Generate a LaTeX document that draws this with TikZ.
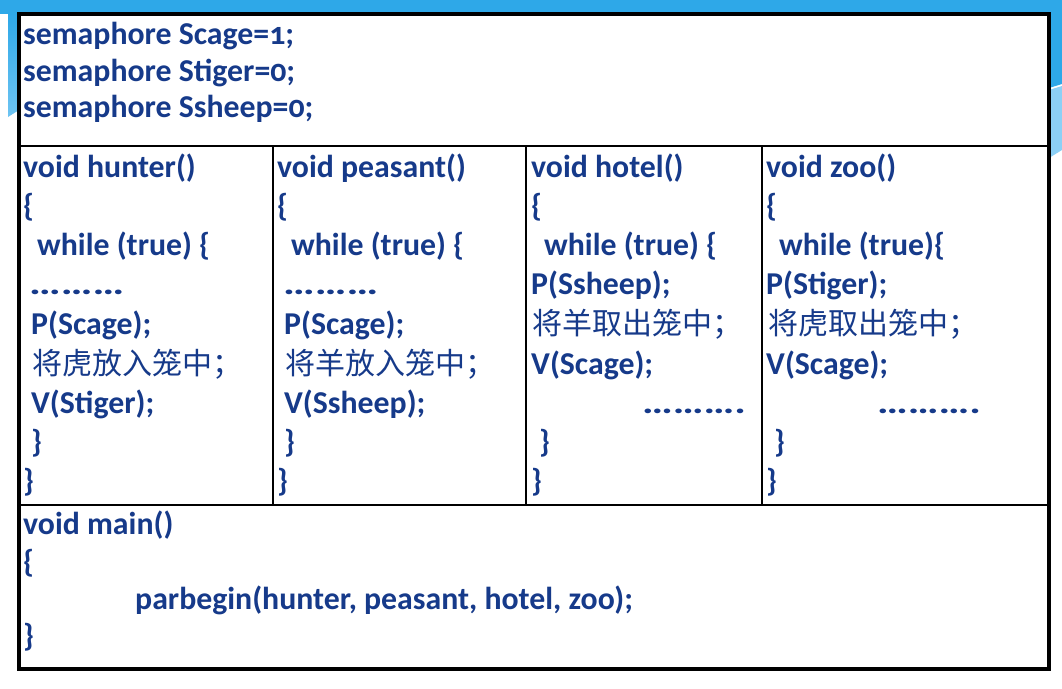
\documentclass[tikz,border=0pt]{standalone}
\usepackage{fontspec}
\setmainfont{Carlito}[Numbers=OldStyle]
\newfontfamily\cjk{Noto Sans CJK SC}
\definecolor{txt}{RGB}{22,58,138}
\definecolor{bartop}{RGB}{46,168,232}
\definecolor{barlight}{RGB}{110,196,242}
\definecolor{wave}{RGB}{140,208,246}
\tikzset{
  code/.style={inner sep=0pt, anchor=base west, text=txt, font=\fontsize{31.8}{37}\selectfont\bfseries},
  zh/.style={inner sep=0pt, anchor=base west, text=txt, font=\cjk\fontsize{30}{30}\selectfont},
  outer/.style={line width=4pt, draw=black},
  inner/.style={line width=2.5pt, draw=black}
}
\begin{document}
\begin{tikzpicture}[x=1pt,y=-1pt]
\useasboundingbox (0,0) rectangle (1062,688);
\fill[white] (0,0) rectangle (1062,688);
% background decoration
\fill[bartop] (0,0) rectangle (1062,14);
\shade[top color=bartop, bottom color=barlight] (8,14) -- (19,14) -- (19,110) -- (8,117) -- cycle;
\fill[bartop] (1049,0) -- (1062,0) -- (1062,84) -- (1049,88) -- cycle;
\fill[wave] (1049,90) -- (1062,86) -- (1062,150) -- (1049,158) -- cycle;
% table
\fill[white] (19,14) rectangle (1049,669);
\draw[inner] (19,146) -- (1049,146);
\draw[inner] (19,505) -- (1049,505);
\draw[inner] (273,146) -- (273,505);
\draw[inner] (526,146) -- (526,505);
\draw[inner] (762,146) -- (762,505);
\draw[outer] (19,14) rectangle (1049,669);
% top cell
\node[code] (s1) at (23,44) {semaphore Scage=1;};
\node[code] (s2) at (23,81) {semaphore Stiger=0;};
\node[code] (s3) at (23,117) {semaphore Ssheep=0;};
% hunter
\node[code] (h1) at (23,177) {void hunter()};
\node[code] (h2) at (23,216) {\{};
\node[code] (h3) at (37,255) {while (true) \{};
\node[code] (h4) at (29,294) {\scalebox{1.4}[1]{………}};
\node[code] (h5) at (31,334) {P(Scage);};
\node[zh]   (h6) at (32,374) {将虎放入笼中；};
\node[code] (h7) at (31,413) {V(Stiger);};
\node[code] (h8) at (31,452) {\}};
\node[code] (h9) at (23,491) {\}};
% peasant
\node[code] (p1) at (277,177) {void peasant()};
\node[code] (p2) at (277,216) {\{};
\node[code] (p3) at (291,255) {while (true) \{};
\node[code] (p4) at (283,294) {\scalebox{1.4}[1]{………}};
\node[code] (p5) at (284,334) {P(Scage);};
\node[zh]   (p6) at (285,374) {将羊放入笼中；};
\node[code] (p7) at (284,413) {V(Ssheep);};
\node[code] (p8) at (284,452) {\}};
\node[code] (p9) at (277,491) {\}};
% hotel
\node[code] (t1) at (531,177) {void hotel()};
\node[code] (t2) at (531,216) {\{};
\node[code] (t3) at (544,255) {while (true) \{};
\node[code] (t4) at (531,294) {P(Ssheep);};
\node[zh]   (t5) at (532,334) {将羊取出笼中；};
\node[code] (t6) at (531,374) {V(Scage);};
\node[code] (t7) at (642,413) {\scalebox{1.36}[1]{……….}};
\node[code] (t8) at (539,452) {\}};
\node[code] (t9) at (531,491) {\}};
% zoo
\node[code] (z1) at (766,177) {void zoo()};
\node[code] (z2) at (766,216) {\{};
\node[code] (z3) at (779,255) {while (true)\{};
\node[code] (z4) at (766,294) {P(Stiger);};
\node[zh]   (z5) at (768,334) {将虎取出笼中；};
\node[code] (z6) at (766,374) {V(Scage);};
\node[code] (z7) at (877,413) {\scalebox{1.36}[1]{……….}};
\node[code] (z8) at (774,452) {\}};
\node[code] (z9) at (766,491) {\}};
% main
\node[code] (m1) at (23,534) {void main()};
\node[code] (m2) at (23,572) {\{};
\node[code] (m3) at (135,609) {parbegin(hunter, peasant, hotel, zoo);};
\node[code] (m4) at (23,646) {\}};
\end{tikzpicture}
\end{document}
